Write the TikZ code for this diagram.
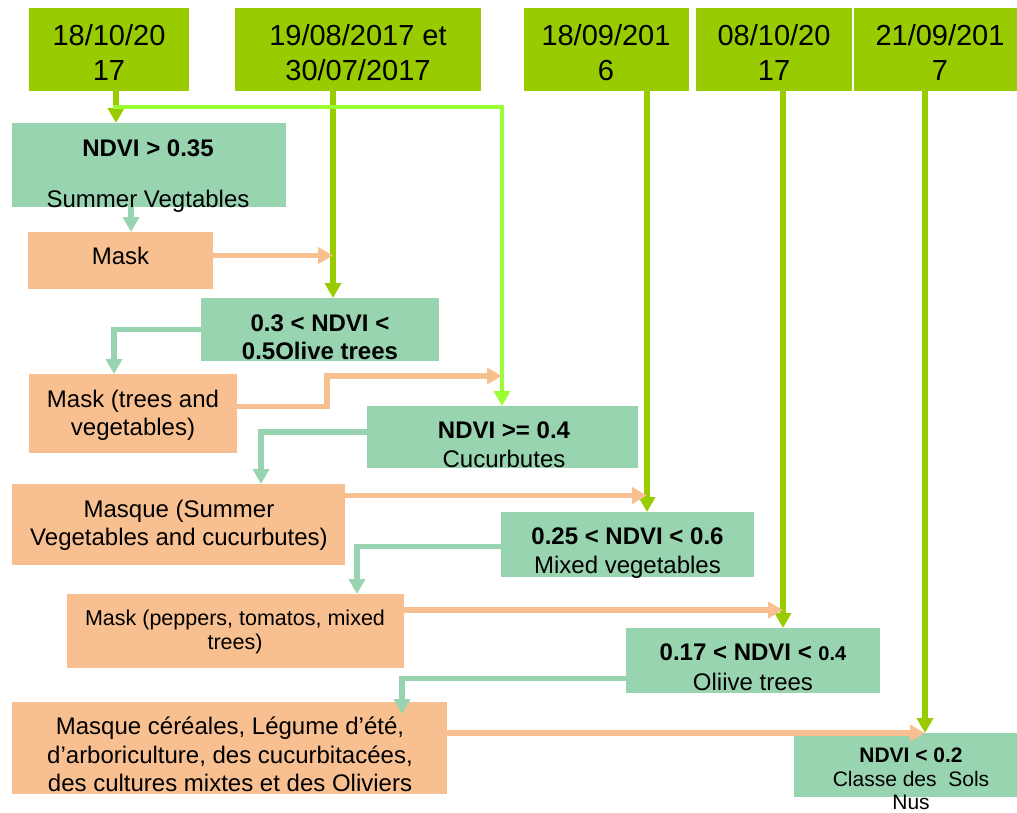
\documentclass[tikz,border=0pt]{standalone}
\usepackage{fontspec}
\setmainfont{Liberation Sans}
\usetikzlibrary{arrows.meta}
\definecolor{dgreen}{HTML}{99CC00}
\definecolor{bgreen}{HTML}{99FF33}
\definecolor{tealbox}{HTML}{98D4B0}
\definecolor{peach}{HTML}{F8C090}
\tikzset{
  box/.style={anchor=north west, inner sep=0pt, outer sep=0pt},
  datebox/.style={box, fill=dgreen},
  testbox/.style={box, fill=tealbox},
  maskbox/.style={box, fill=peach},
  txt/.style={anchor=base, inner sep=0pt, font=\fontsize{24}{28}\selectfont},
  btxt/.style={anchor=base, inner sep=0pt, font=\fontsize{24}{28}\selectfont\bfseries},
  stxt/.style={anchor=base, inner sep=0pt, font=\fontsize{21.5}{25}\selectfont},
  ftxt/.style={anchor=base, inner sep=0pt, font=\fontsize{21}{25}\selectfont},
  fbtxt/.style={anchor=base, inner sep=0pt, font=\fontsize{21}{25}\selectfont\bfseries},
  dtxt/.style={anchor=base, inner sep=0pt, font=\fontsize{29}{35}\selectfont},
  tipped/.style={-{Triangle[length=15pt,width=16pt]}},
  dline/.style={draw=dgreen, line width=5.5pt, tipped},
  bline/.style={draw=bgreen, line width=4.8pt, tipped},
  tline/.style={draw=tealbox, line width=5.2pt, tipped},
  pline/.style={draw=peach, line width=5.2pt, tipped},
}
\begin{document}
\begin{tikzpicture}[x=1pt,y=-1pt]
\useasboundingbox (0,0) rectangle (1017,812);

% date boxes
\node[datebox, minimum width=160pt, minimum height=83pt] (d1) at (29,8) {};
\node[datebox, minimum width=246pt, minimum height=83pt] (d2) at (235,8) {};
\node[datebox, minimum width=165pt, minimum height=83pt] (d3) at (524,8) {};
\node[datebox, minimum width=156pt, minimum height=83pt] (d4) at (696,8) {};
\node[datebox, minimum width=165pt, minimum height=83pt] (d5) at (854,8) {};

% test boxes
\node[testbox, minimum width=274pt, minimum height=84pt] (A) at (12,123) {};
\node[testbox, minimum width=238pt, minimum height=63pt] (B) at (201,298) {};
\node[testbox, minimum width=271pt, minimum height=62pt] (C) at (367,406) {};
\node[testbox, minimum width=253pt, minimum height=65pt] (D) at (501,512) {};
\node[testbox, minimum width=254pt, minimum height=65pt] (E) at (626,628) {};
\node[testbox, minimum width=225pt, minimum height=64pt] (F) at (794,733) {};

% mask boxes
\node[maskbox, minimum width=185pt, minimum height=57pt] (M1) at (28,232) {};
\node[maskbox, minimum width=208pt, minimum height=79pt] (M2) at (29,374) {};
\node[maskbox, minimum width=333pt, minimum height=81pt] (M3) at (12,484) {};
\node[maskbox, minimum width=337pt, minimum height=74pt] (M4) at (67,594) {};
\node[maskbox, minimum width=435pt, minimum height=92pt] (M5) at (12,702) {};

% helper coordinates (x positions of the verticals)
\coordinate (x1) at (116,0);
\coordinate (x2) at (333,0);
\coordinate (x3) at (647,0);
\coordinate (x4) at (783,0);
\coordinate (x5) at (925,0);
\coordinate (bs) at (113,107);
\coordinate (xb) at (502,107);
\coordinate (t1) at (131,0);
\coordinate (t2) at (114,0);
\coordinate (t3) at (261,0);
\coordinate (t4) at (357,0);
\coordinate (t5) at (402,714);
\coordinate (k2) at (327,376);

% date connectors
\draw[dline] (d1.south -| x1) -- (A.north -| x1);
\draw[dline] (d2.south -| x2) -- (B.north -| x2);
\draw[dline] (d3.south -| x3) -- (D.north -| x3);
\draw[dline] (d4.south -| x4) -- (E.north -| x4);
\draw[dline] (d5.south -| x5) -- (F.north -| x5);
\draw[bline] (bs) -- (xb) -- (C.north -| xb);

% test -> mask connectors
\draw[tline] (A.south -| t1) -- (M1.north -| t1);
\draw[tline] (B.west) -| (M2.north -| t2);
\draw[tline] ([yshift=5pt]C.west) -| (M3.north -| t3);
\draw[tline] ([yshift=-2pt]D.west) -| (M4.north -| t4);
\draw[tline] ([yshift=-18pt]E.west) -| (t5);

% mask -> next connectors
\draw[pline] ([yshift=5pt]M1.east) -- ([yshift=5pt]M1.east -| x2);
\draw[pline] ([yshift=7pt]M2.east) -| (k2) -- (k2 -| xb);
\draw[pline] ([yshift=29pt]M3.east) -- ([yshift=29pt]M3.east -| x3);
\draw[pline] ([yshift=21pt]M4.east) -- ([yshift=21pt]M4.east -| x4);
\draw[pline] ([yshift=15pt]M5.east) -- ([yshift=15pt]M5.east -| x5);

% date texts
\node[dtxt] (d1a) at (109,45) {18/10/20};
\node[dtxt] (d1b) at (109,80) {17};
\node[dtxt] (d2a) at (358,45) {19/08/2017 et};
\node[dtxt] (d2b) at (358,80) {30/07/2017};
\node[dtxt] (d3a) at (606,45) {18/09/201};
\node[dtxt] (d3b) at (606,80) {6};
\node[dtxt] (d4a) at (774,45) {08/10/20};
\node[dtxt] (d4b) at (774,80) {17};
\node[dtxt] (d5a) at (940,45) {21/09/201};
\node[dtxt] (d5b) at (940,80) {7};

% test texts
\node[btxt] (Aa) at (148,156) {NDVI > 0.35};
\node[txt] (Ab) at (148,207) {Summer Vegtables};
\node[btxt] (Ba) at (320,331) {0.3 < NDVI <};
\node[btxt] (Bb) at (320,359) {0.5Olive trees};
\node[btxt] (Ca) at (504,438) {NDVI >= 0.4};
\node[txt] (Cb) at (504,467) {Cucurbutes};
\node[btxt] (Da) at (627.5,544) {0.25 < NDVI < 0.6};
\node[txt] (Db) at (627.5,573) {Mixed vegetables};
\node[btxt] (Ea) at (753,660) {0.17 < NDVI < {\fontsize{20}{24}\selectfont 0.4}};
\node[txt] (Eb) at (753,690) {Oliive trees};
\node[fbtxt] (Fa) at (911,762) {NDVI < 0.2};
\node[ftxt] (Fb) at (911,786) {Classe des\ \ Sols};
\node[ftxt] (Fc) at (911,809) {Nus};

% mask texts
\node[txt] (M1a) at (120.5,264) {Mask};
\node[txt] (M2a) at (133,407) {Mask (trees and};
\node[txt] (M2b) at (133,435) {vegetables)};
\node[txt] (M3a) at (179,517) {Masque (Summer};
\node[txt] (M3b) at (179,545) {Vegetables and cucurbutes)};
\node[stxt] (M4a) at (235,625) {Mask (peppers, tomatos, mixed};
\node[stxt] (M4b) at (235,649) {trees)};
\node[txt] (M5a) at (230,734) {Masque céréales, Légume d’été,};
\node[txt] (M5b) at (230,763) {d’arboriculture, des cucurbitacées,};
\node[txt] (M5c) at (230,791) {des cultures mixtes et des Oliviers};
\end{tikzpicture}
\end{document}
